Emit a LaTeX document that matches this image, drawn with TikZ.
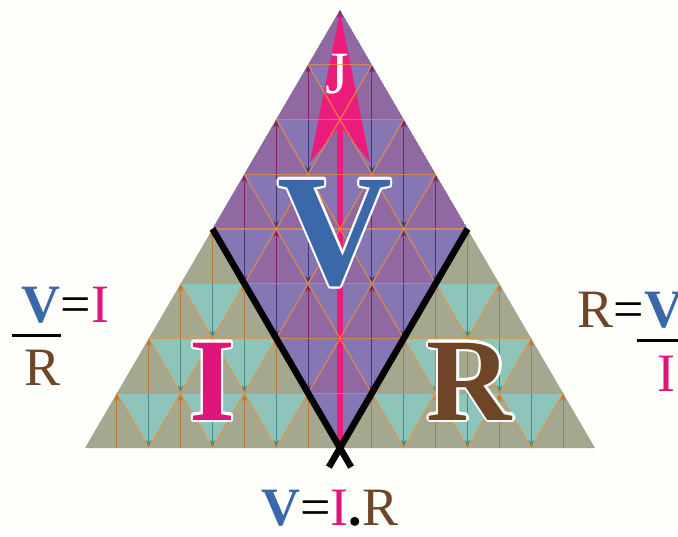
\documentclass[tikz,border=0pt]{standalone}
\usepackage{fontspec}
\setmainfont{Liberation Serif}
\usepackage{xcolor}
\usepackage[copies]{contour}
\usepackage{tikz}
\usetikzlibrary{%
  arrows.meta,
  positioning,
  calc}

\definecolor{vblue}{HTML}{3B68A8}
\definecolor{ipink}{HTML}{E0157A}
\definecolor{rbrown}{HTML}{6E4526}
\definecolor{jpink}{HTML}{EC1C7A}
\definecolor{sagebg}{HTML}{A4A88F}
\definecolor{tealcell}{HTML}{8FC4BA}
\definecolor{violetbg}{HTML}{9069A2}
\definecolor{violetcell}{HTML}{8676B3}
\definecolor{greenup}{HTML}{C0763A}
\definecolor{greendn}{HTML}{3D8D8B}
\definecolor{purpleup}{HTML}{7D2363}
\definecolor{purpledn}{HTML}{3E3A78}
\definecolor{gridorange}{HTML}{E8913A}
\definecolor{paper}{HTML}{FEFEFB}

\contourlength{2.2pt}

\tikzset{
  %% Cells of the triangular grid
  dncell/.style={fill=tealcell},
  upline/.style={-{Stealth[length=8pt,width=5.5pt]}, line width=0.9pt, draw=greenup},
  dnline/.style={-{Stealth[length=8pt,width=5.5pt]}, line width=0.9pt, draw=greendn},
  %% Same cells inside the V region
  violetcells/.style={
    dncell/.style={fill=violetcell},
    upline/.style={-{Stealth[length=8pt,width=5.5pt]}, line width=0.9pt, draw=purpleup},
    dnline/.style={-{Stealth[length=8pt,width=5.5pt]}, line width=0.9pt, draw=purpledn}},
  %% Lines
  gridline/.style={draw=gridorange, line width=1.4pt, opacity=0.7},
  vline/.style={draw=black, line width=6.5pt},
  jarrow/.style={draw=jpink, line width=6pt,
    -{Stealth[length=150pt,width=60pt,inset=36pt]}},
  fracbar/.style={draw=black, line width=3pt},
  %% Texts
  bigletter/.style={anchor=base, inner sep=0pt,
    font=\bfseries\fontsize{#1}{#1}\selectfont},
  jlabel/.style={anchor=base, inner sep=0pt, text=white,
    font=\fontsize{60}{60}\selectfont},
  formula/.style={anchor=base west, inner sep=0pt,
    font=\fontsize{54}{54}\selectfont},
}

%% one pass over the 8 rows of cells
\newcommand{\cellpass}{%
  \foreach \k in {1,...,8}{%
    \pgfmathsetmacro{\yt}{10+(\k-1)*54.75}%
    \pgfmathsetmacro{\yb}{10+\k*54.75}%
    \pgfmathsetmacro{\xo}{340-\k*31.875}%
    \pgfmathtruncatemacro{\km}{\k-1}%
    \ifnum\k>1
      \foreach \j in {1,...,\km}{%
        \pgfmathsetmacro{\xc}{\xo+2*\j*31.875}%
        \pgfmathsetmacro{\xl}{\xc-31.875}%
        \pgfmathsetmacro{\xr}{\xc+31.875}%
        \fill[dncell] (\xl,\yt) -- (\xr,\yt) -- (\xc,\yb) -- cycle;
        \draw[dnline] (\xc,\yt) -- (\xc,\yb);
      }%
    \fi
    \foreach \j in {0,...,\km}{%
      \pgfmathsetmacro{\xc}{\xo+(2*\j+1)*31.875}%
      \draw[upline] (\xc,\yb) -- (\xc,\yt);
    }%
  }%
}

\begin{document}
\begin{tikzpicture}[x=1pt, y=-1pt]

  \useasboundingbox (0,0) rectangle (678,536);
  \clip (0,0) rectangle (678,536);
  \fill[paper] (0,0) rectangle (678,536);

  %% Corners
  \coordinate (apex) at (340,10);
  \coordinate (bl)   at (85,448);
  \coordinate (br)   at (595,448);
  \coordinate (foot) at (340,448);
  \coordinate (rhl)  at (212.5,228.8);
  \coordinate (rhr)  at (467.5,228.8);

  %% I and R region
  \fill[sagebg] (apex) -- (bl) -- (br) -- cycle;
  \cellpass

  %% V region
  \begin{scope}[violetcells]
    \clip (apex) -- (rhl) -- (foot) -- (rhr) -- cycle;
    \fill[violetbg] (apex) -- (rhl) -- (foot) -- (rhr) -- cycle;
    \cellpass
  \end{scope}

  %% J arrow
  \coordinate (jtip) at (340,12);
  \draw[jarrow] (foot) -- (jtip);
  \node[jlabel] (jtext) at (337,93) {J};

  %% Grid
  \foreach \k in {1,...,7}{
    \pgfmathsetmacro{\gy}{10+\k*54.75}
    \pgfmathsetmacro{\gl}{340-\k*31.875}
    \pgfmathsetmacro{\gr}{340+\k*31.875}
    \draw[gridline] (\gl,\gy) -- (\gr,\gy);
  }
  \foreach \m in {1,...,7}{
    \pgfmathsetmacro{\ga}{85+\m*63.75}
    \pgfmathsetmacro{\gb}{595-\m*63.75}
    \pgfmathsetmacro{\gdx}{(8-\m)*31.875}
    \pgfmathsetmacro{\gy}{448-(8-\m)*54.75}
    \draw[gridline] (\ga,448) -- ({\ga+\gdx},\gy);
    \draw[gridline] (\gb,448) -- ({\gb-\gdx},\gy);
  }

  %% Black V
  \draw[vline] (rhl) -- ($(rhl)!1.087!(foot)$);
  \draw[vline] (rhr) -- ($(rhr)!1.087!(foot)$);

  %% Big letters
  \node[bigletter=159, text=vblue]  (bigV) at (335,284) {\contour{white}{V}};
  \node[bigletter=118, text=ipink]  (bigI) at (212.5,420) {\contour{white}{I}};
  \node[bigletter=118, text=rbrown] (bigR) at (469.5,420) {\contour{white}{R}};

  %% I = V / R
  \node[formula] (lV)  at (21,322) {\textcolor{vblue}{\bfseries V}};
  \node[formula] (lEq) at (lV.base east) {=\textcolor{ipink}{I}};
  \draw[fracbar] ([xshift=-9pt,yshift=-12pt]lV.south west)
              -- ([xshift=1pt,yshift=-12pt]lV.south east);
  \node[formula] (lR)  at (24,385) {\textcolor{rbrown}{R}};

  %% R = V / I
  \node[formula] (rR)  at (577,327) {\textcolor{rbrown}{R}=};
  \node[formula] (rV)  at (rR.base east) {\textcolor{vblue}{\bfseries V}};
  \draw[fracbar] ([xshift=-7pt,yshift=-12pt]rV.south west)
              -- ([xshift=10pt,yshift=-12pt]rV.south east);
  \node[formula] (rI)  at (657,391) {\textcolor{ipink}{I}};

  %% V = I.R
  \node[formula] (ohm) at (261,525)
        {\textcolor{vblue}{\bfseries V}=\textcolor{ipink}{I}{\bfseries .}\textcolor{rbrown}{R}};

\end{tikzpicture}
\end{document}
